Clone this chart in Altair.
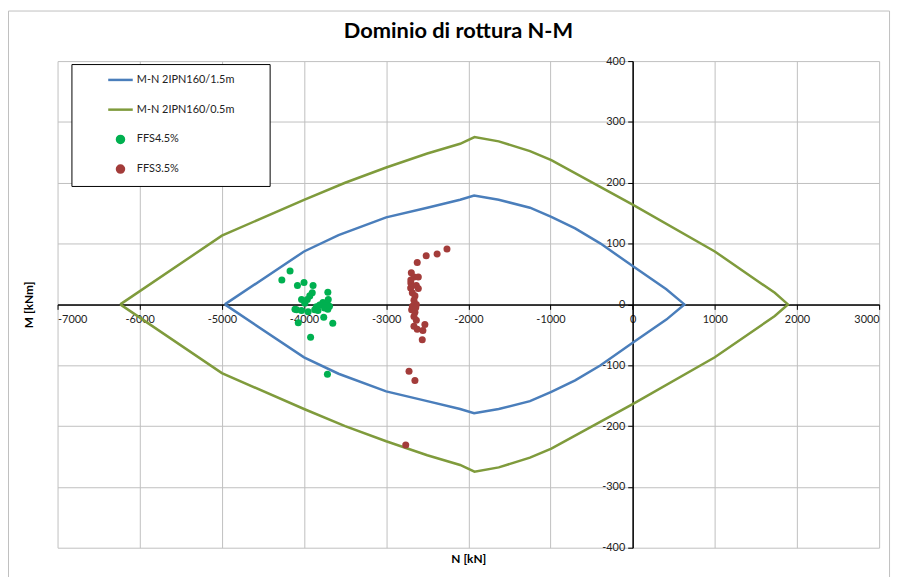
import altair as alt
import pandas as pd

chart_title = "Dominio di rottura N-M"
series = ["M-N 2IPN160/1.5m", "M-N 2IPN160/0.5m", "FFS4.5%", "FFS3.5%"]
colors = ["#4A7EBB", "#7F9B3C", "#00B050", "#A33C3A"]
x_ticks = [-7000, -6000, -5000, -4000, -3000, -2000, -1000, 0, 1000, 2000, 3000]
y_ticks = [-400, -300, -200, -100, 0, 100, 200, 300, 400]

# M-N domain 1.5m (closed path: upper branch left->right, lower branch right->left)
blue_N = [-4964, -4000, -3580, -3000, -2500, -2100, -1930, -1630, -1250, -990, -700, -390, 0, 410, 630,
          410, 0, -390, -700, -990, -1250, -1630, -1930, -2100, -2500, -3000, -3580, -4000, -4964]
blue_M = [0, 87, 114, 143, 159, 172, 179, 172, 159, 144, 125, 100, 63, 25, 0,
          -25, -63, -100, -125, -144, -159, -172, -179, -172, -159, -143, -114, -87, 0]

# M-N domain 0.5m
green_N = [-6237, -5000, -4000, -3500, -3000, -2500, -2100, -1925, -1630, -1250, -990, 0, 1000, 1730, 1890,
           1730, 1000, 0, -990, -1250, -1630, -1925, -2100, -2500, -3000, -3500, -4000, -5000, -6237]
green_M = [0, 113, 172, 200, 225, 248, 264, 275, 268, 252, 237, 164, 87, 19, 0,
           -19, -87, -164, -237, -252, -268, -275, -264, -248, -225, -200, -172, -113, 0]

# FFS4.5%
ffs45_N = [-4270, -4170, -4080, -4000, -3890, -3900, -3710, -3930, -3960, -4030, -3990, -3850, -3770, -3720, -3705,
           -3810, -3750, -4090, -4030, -3950, -3870, -3710, -3760, -4070, -3650, -3920, -3715, -4110, -3830, -3690]
ffs45_M = [40, 55, 31, 36, 31, 19, 20, 14, 8, 8, 2, -4, 3, 2, 8,
           -1, -6, -9, -10, -12, -9, -8, -21, -30, -31, -54, -115, -8, -10, -3]

# FFS3.5%
ffs35_N = [-2260, -2380, -2513, -2622, -2694, -2662, -2609, -2702, -2633, -2609, -2682, -2650, -2662, -2633, -2690,
           -2650, -2662, -2633, -2662, -2622, -2529, -2553, -2561, -2722, -2650, -2762, -2700, -2680, -2640, -2700]
ffs35_M = [91, 83, 80, 69, 52, 45, 45, 27, 31, 26, 19, 14, 7, 0, -9,
           -13, -20, -26, -36, -41, -33, -43, -58, -110, -125, -231, 35, -3, -5, 40]

lines = pd.DataFrame({
    "N": blue_N + green_N,
    "M": blue_M + green_M,
    "series": [series[0]] * len(blue_N) + [series[1]] * len(green_N),
    "idx": list(range(len(blue_N))) + list(range(len(green_N))),
})
points = pd.DataFrame({
    "N": ffs45_N + ffs35_N,
    "M": ffs45_M + ffs35_M,
    "series": [series[2]] * len(ffs45_N) + [series[3]] * len(ffs35_N),
})

W, H = 829, 491
FONT = "Lato"
LINE_SYMBOL = "M-3.5,0H3.5"

xscale = alt.Scale(domain=[-7000, 3000], nice=False, zero=False)
yscale = alt.Scale(domain=[-400, 400], nice=False)

x_axis = alt.Axis(values=x_ticks, labelExpr="'' + datum.value", offset=-H / 2, grid=True, gridColor="#bfbfbf",
                  domainColor="black", domainWidth=1.5, tickColor="black", tickSize=5,
                  labelFont=FONT, labelFontSize=11, labelColor="#222", labelPadding=4,
                  title="N [kN]", titleFont=FONT, titleFontSize=12, titleFontWeight="bold",
                  titleX=W / 2, titleY=H / 2 + 6, titleBaseline="top")
y_axis = alt.Axis(values=y_ticks, labelExpr="'' + datum.value", offset=-W * 0.7, grid=True, gridColor="#bfbfbf",
                  domainColor="black", domainWidth=1.5, tickColor="black", tickSize=5,
                  labelFont=FONT, labelFontSize=11, labelColor="#222", labelPadding=3,
                  title="M [kNm]", titleFont=FONT, titleFontSize=12, titleFontWeight="bold",
                  titleX=-W * 0.7 - 22, titleY=H / 2, titleAngle=-90, titleBaseline="bottom")

color = alt.Color("series:N", scale=alt.Scale(domain=series, range=colors),
                  legend=alt.Legend(title=None, orient="none", legendX=58, legendY=13.5, padding=0,
                                    labelFont=FONT, labelFontSize=11, labelColor="#222",
                                    labelOffset=11, rowPadding=11, symbolStrokeWidth=2.5,
                                    symbolSize=50, gridAlign="all"))

frame = alt.Chart(pd.DataFrame({"k": [0]})).mark_rect(
    fill="white", stroke="#bfbfbf", strokeWidth=1, fillOpacity=0
).encode(x=alt.value(-49.5), x2=alt.value(839.5), y=alt.value(-50.5), y2=alt.value(521.5))

legend_box = alt.Chart(pd.DataFrame({"k": [0]})).mark_rect(
    fill="white", stroke="black", strokeWidth=1
).encode(x=alt.value(14.5), x2=alt.value(214.5), y=alt.value(3.5), y2=alt.value(126.5))

line_layer = alt.Chart(lines).mark_line(strokeWidth=2.5).encode(
    x=alt.X("N:Q", scale=xscale, axis=x_axis),
    y=alt.Y("M:Q", scale=yscale, axis=y_axis),
    color=color,
    order="idx:Q",
)

point_layer = alt.Chart(points).mark_point(filled=True, opacity=1, size=50).encode(
    x="N:Q",
    y="M:Q",
    color=color,
    shape=alt.Shape("series:N",
                    scale=alt.Scale(domain=series, range=[LINE_SYMBOL, LINE_SYMBOL, "circle", "circle"]),
                    legend=alt.Legend(title=None)),
)

chart = alt.layer(frame, legend_box, line_layer, point_layer).properties(
    width=W, height=H,
    title=alt.TitleParams(chart_title, font=FONT, fontSize=22, fontWeight="bold", color="black",
                          anchor="middle", dx=-10, offset=-49.5, baseline="alphabetic"),
    autosize=alt.AutoSizeParams(type="none"),
    padding={"left": 50, "top": 51, "right": 15, "bottom": 27},
).configure_view(stroke=None)

chart.save("out.html", embed_options={"renderer": "svg", "actions": False})
